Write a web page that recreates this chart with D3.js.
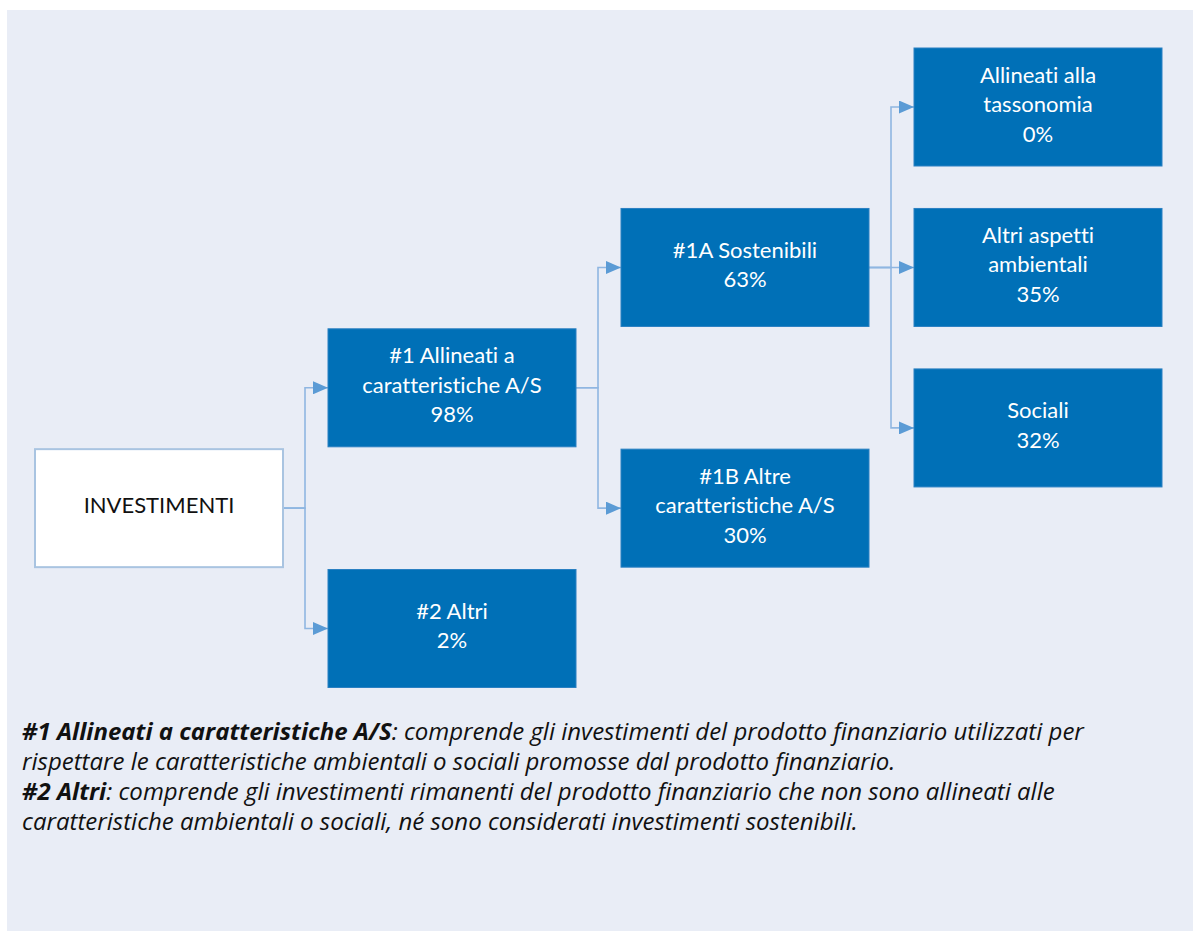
<!DOCTYPE html>
<html>
<head>
<meta charset="utf-8">
<script src="https://cdn.jsdelivr.net/npm/d3@7"></script>
<style>
  html, body { margin: 0; padding: 0; background: #fff; }
  svg { display: block; }
  text { font-variant-ligatures: none; }
</style>
</head>
<body>
<div id="chart"></div>
<script>
// nodes of the asset allocation tree
const nodeIds = ['inv', 'n1', 'n2', 'n1A', 'n1B', 'tax', 'amb', 'soc'];
const nodeParents = [null, 'inv', 'inv', 'n1', 'n1', 'n1A', 'n1A', 'n1A'];
const nodeLabels = [
    ['INVESTIMENTI'],
    ['#1 Allineati a', 'caratteristiche A/S'],
    ['#2 Altri'],
    ['#1A Sostenibili'],
    ['#1B Altre', 'caratteristiche A/S'],
    ['Allineati alla', 'tassonomia'],
    ['Altri aspetti', 'ambientali'],
    ['Sociali']
];
const nodeShares = [null, 98, 2, 63, 30, 0, 35, 32];

// footnotes: [bold part, rest]
const notes = [
    ['#1 Allineati a caratteristiche A/S', ': comprende gli investimenti del prodotto finanziario utilizzati per'],
    ['', 'rispettare le caratteristiche ambientali o sociali promosse dal prodotto finanziario.'],
    ['#2 Altri', ': comprende gli investimenti rimanenti del prodotto finanziario che non sono allineati alle'],
    ['', 'caratteristiche ambientali o sociali, né sono considerati investimenti sostenibili.']
];

const width = 1199, height = 931;
const boxW = 248, boxH = 118;
const lineH = 29.5;

// vertical slot of each node (layout only)
const slot = {inv: 10, n1: 7, n2: 13, n1A: 4, n1B: 10, tax: 0, amb: 4, soc: 8};

const root = d3.stratify()
    .id((d, i) => nodeIds[i])
    .parentId((d, i) => nodeParents[i])(nodeIds.map((id, i) => ({
        id, lines: nodeLabels[i], share: nodeShares[i]
    })));

const x = d3.scaleLinear().domain([0, 3]).range([35, 914]);
const y = d3.scaleLinear().domain([0, 13]).range([107, 628.5]);

const svg = d3.select('#chart').append('svg')
    .attr('width', width).attr('height', height);

svg.append('rect').attr('width', width).attr('height', height).attr('fill', '#fff');
svg.append('rect').attr('x', 7).attr('y', 10).attr('width', 1186).attr('height', height - 10)
    .attr('fill', '#e9edf6');

svg.append('defs').append('marker')
    .attr('id', 'arrow')
    .attr('viewBox', '0 0 15 13')
    .attr('refX', 15).attr('refY', 6.5)
    .attr('markerWidth', 15).attr('markerHeight', 13)
    .attr('markerUnits', 'userSpaceOnUse')
    .attr('orient', 'auto')
    .append('path')
    .attr('d', 'M0,0L15,6.5L0,13Z')
    .attr('fill', '#5b9bd5');

const nodes = root.descendants();
nodes.forEach(d => {
    d.x0 = x(d.depth);
    d.cy = y(slot[d.id]);
});

// elbow connectors
svg.append('g')
    .attr('fill', 'none')
    .attr('stroke', '#8fb6e1')
    .attr('stroke-width', 1.6)
    .selectAll('path')
    .data(root.links())
    .join('path')
    .attr('d', l => {
        const sx = l.source.x0 + boxW;
        const tx = l.target.x0;
        const mx = sx + (tx - sx) / 2 - 0.5;
        return `M${sx},${l.source.cy}H${mx}V${l.target.cy}H${tx}`;
    })
    .attr('marker-end', 'url(#arrow)');

const box = svg.append('g')
    .selectAll('g')
    .data(nodes)
    .join('g')
    .attr('transform', d => `translate(${d.x0},${d.cy - boxH / 2})`);

box.append('rect')
    .attr('width', boxW).attr('height', boxH)
    .attr('fill', d => d.depth === 0 ? '#fff' : '#0070b7')
    .attr('stroke', d => d.depth === 0 ? '#a9c4e1' : '#2a80c2')
    .attr('stroke-width', d => d.depth === 0 ? 2 : 1);

box.append('text')
    .attr('text-anchor', 'middle')
    .attr('font-family', 'Lato, "Noto Sans", sans-serif')
    .attr('font-size', 22)
    .attr('fill', d => d.depth === 0 ? '#111' : '#fff')
    .each(function (d) {
        const lines = d.data.lines.slice();
        if (d.data.share != null) lines.push(d.data.share + '%');
        const t = d3.select(this);
        lines.forEach((s, i) => {
            t.append('tspan')
                .attr('x', boxW / 2)
                .attr('y', boxH / 2 + 5 + (i - (lines.length - 1) / 2) * lineH)
                .text(s);
        });
    });

// footnotes
const notesG = svg.append('g')
    .attr('font-family', '"Open Sans", "Noto Sans", sans-serif')
    .attr('font-style', 'italic')
    .attr('font-size', 24)
    .attr('fill', '#111');

notes.forEach((n, i) => {
    const line = notesG.append('text').attr('x', 22).attr('y', 740 + i * 30);
    if (n[0]) line.append('tspan').attr('font-weight', 700).text(n[0]);
    line.append('tspan').text(n[1]);
});
</script>
</body>
</html>
